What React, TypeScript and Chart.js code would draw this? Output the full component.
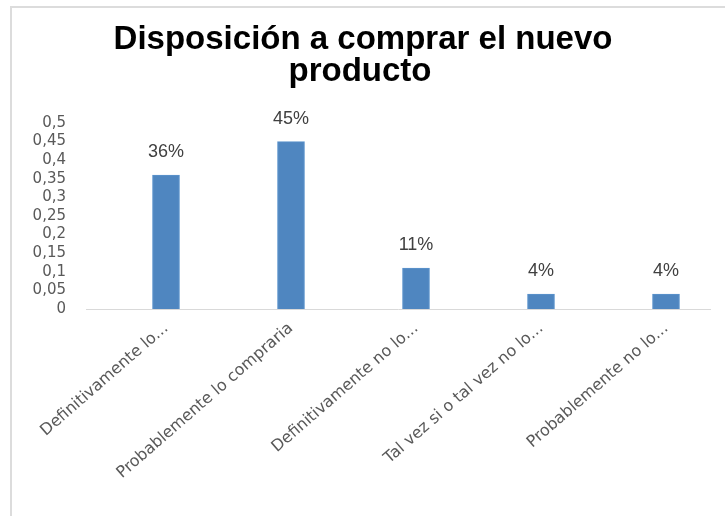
import React, { useEffect, useRef } from 'react';
import { Chart, registerables } from 'chart.js';

Chart.register(...registerables);

const titleLines = ['Disposición a comprar el nuevo', 'producto'];
const categories = [
  'Definitivamente lo...',
  'Probablemente lo compraria',
  'Definitivamente no lo...',
  'Tal vez si o tal vez no lo...',
  'Probablemente no lo...',
];
const values = [0.36, 0.45, 0.11, 0.04, 0.04];
const valueLabels = ['36%', '45%', '11%', '4%', '4%'];
const yTickValues = [0, 0.05, 0.1, 0.15, 0.2, 0.25, 0.3, 0.35, 0.4, 0.45, 0.5];
const yTickLabels = ['0', '0,05', '0,1', '0,15', '0,2', '0,25', '0,3', '0,35', '0,4', '0,45', '0,5'];

const decorPlugin = {
  id: 'decor',
  beforeDraw(chart: any) {
    const ctx = chart.ctx;
    ctx.save();
    ctx.fillStyle = '#ffffff';
    ctx.fillRect(0, 0, chart.width, chart.height);
    ctx.fillStyle = '#dcdcdc';
    ctx.fillRect(10, 6, chart.width - 10, 2);
    ctx.fillRect(10, 6, 2, chart.height - 6);
    ctx.fillStyle = '#000000';
    ctx.font = 'bold 33px "Liberation Sans", Arial, sans-serif';
    ctx.textAlign = 'center';
    ctx.textBaseline = 'alphabetic';
    ctx.fillText(titleLines[0], 363, 49);
    ctx.fillText(titleLines[1], 360, 81);
    ctx.restore();
  },
  afterDatasetsDraw(chart: any) {
    const ctx = chart.ctx;
    const meta = chart.getDatasetMeta(0);
    ctx.save();
    ctx.fillStyle = '#404040';
    ctx.font = '18px "Liberation Sans", Arial, sans-serif';
    ctx.textAlign = 'center';
    ctx.textBaseline = 'middle';
    meta.data.forEach((bar: any, i: number) => {
      ctx.fillText(valueLabels[i], bar.x, bar.y - 23);
    });
    ctx.restore();
  },
};

export default function App() {
  const ref = useRef<HTMLCanvasElement>(null);
  useEffect(() => {
    const chart = new Chart(ref.current as HTMLCanvasElement, {
      type: 'bar',
      data: {
        datasets: [
          {
            data: categories.map((_, i) => ({ x: i, y: values[i] })),
            backgroundColor: '#4F86C0',
            borderColor: '#5b93cc',
            borderWidth: 1,
            barThickness: 27,
          },
        ],
      },
      options: {
        animation: false,
        responsive: false,
        layout: { padding: { left: 0, right: 15, top: 123, bottom: 0 } },
        plugins: {
          legend: { display: false },
          tooltip: { enabled: false },
          title: { display: false },
        },
        scales: {
          x: {
            type: 'linear',
            offset: false,
            min: -0.64,
            max: 4.352,
            grid: { display: false, drawTicks: false },
            border: { display: true, color: '#d9d9d9', width: 1 },
            afterBuildTicks: (s: any) => {
              s.ticks = categories.map((_, i) => ({ value: i }));
            },
            afterFit: (s: any) => {
              s.height = 207;
              s.paddingLeft = 0;
              s.paddingRight = 0;
            },
            ticks: {
              autoSkip: false,
              minRotation: 41,
              maxRotation: 41,
              padding: 10,
              color: '#595959',
              font: { family: '"DejaVu Sans", sans-serif', size: 16 },
              callback: (v: any) => categories[v as number] ?? '',
            },
          },
          y: {
            min: 0,
            max: 0.5,
            grid: { display: false, drawTicks: false },
            border: { display: false },
            afterBuildTicks: (s: any) => {
              s.ticks = yTickValues.map((v) => ({ value: v }));
            },
            afterFit: (s: any) => {
              s.width = 86;
              s.paddingTop = 0;
              s.paddingBottom = 0;
            },
            ticks: {
              autoSkip: false,
              padding: 20,
              color: '#595959',
              font: { family: '"DejaVu Sans", sans-serif', size: 15 },
              callback: (_v: any, i: number) => yTickLabels[i],
            },
          },
        },
      },
      plugins: [decorPlugin],
    });
    return () => chart.destroy();
  }, []);
  return (
    <div style={{ position: 'absolute', left: 0, top: 0, width: 725, height: 516 }}>
      <canvas ref={ref} width={725} height={516} />
    </div>
  );
}
